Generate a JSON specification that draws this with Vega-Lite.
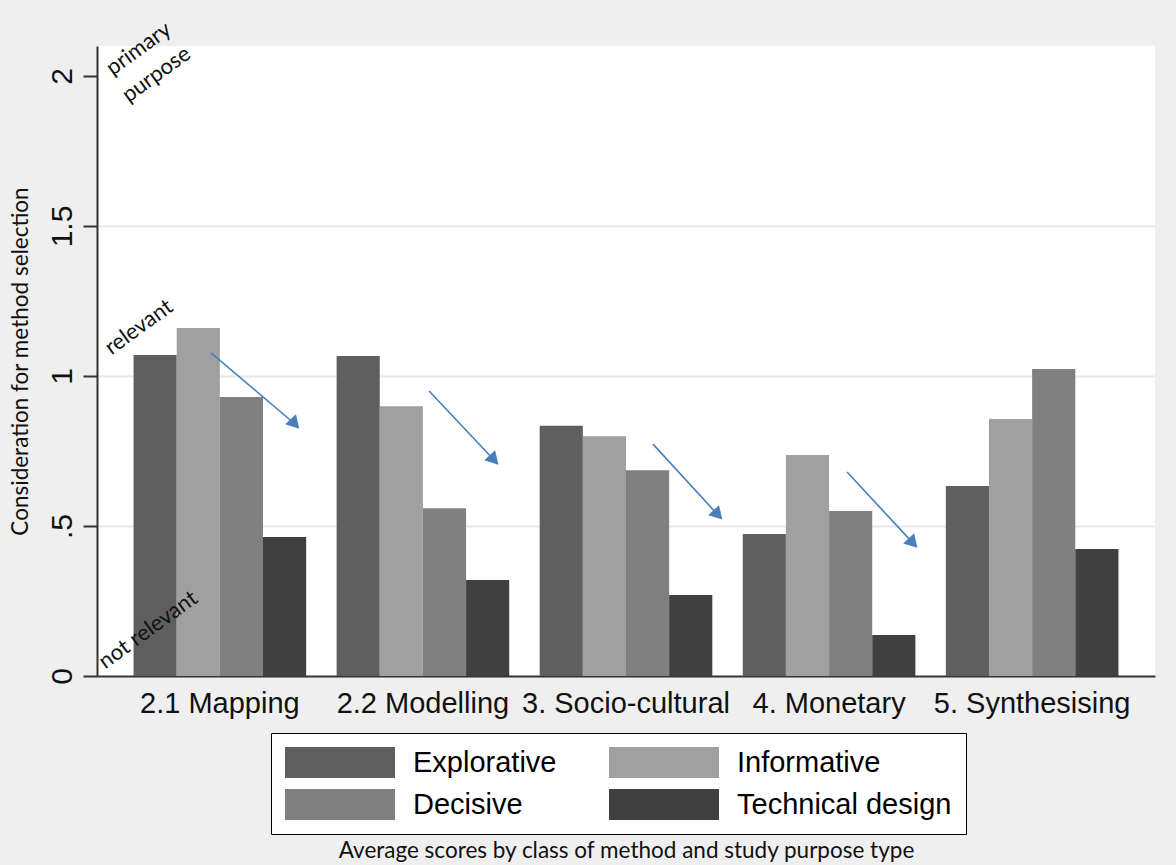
{
  "$schema": "https://vega.github.io/schema/vega-lite/v6.json",
  "width": 1058,
  "height": 630,
  "autosize": {"type": "none"},
  "padding": {"left": 97, "top": 46, "right": 21, "bottom": 189},
  "background": "#EFEFEF",
  "view": {"fill": "white", "stroke": null},
  "datasets": {
    "bars": [
      {"group": "2.1 Mapping", "type": "Explorative", "value": 1.07},
      {"group": "2.1 Mapping", "type": "Informative", "value": 1.16},
      {"group": "2.1 Mapping", "type": "Decisive", "value": 0.93},
      {"group": "2.1 Mapping", "type": "Technical design", "value": 0.463},
      {"group": "2.2 Modelling", "type": "Explorative", "value": 1.067},
      {"group": "2.2 Modelling", "type": "Informative", "value": 0.899},
      {"group": "2.2 Modelling", "type": "Decisive", "value": 0.559},
      {"group": "2.2 Modelling", "type": "Technical design", "value": 0.32},
      {"group": "3. Socio-cultural", "type": "Explorative", "value": 0.834},
      {"group": "3. Socio-cultural", "type": "Informative", "value": 0.799},
      {"group": "3. Socio-cultural", "type": "Decisive", "value": 0.686},
      {"group": "3. Socio-cultural", "type": "Technical design", "value": 0.27},
      {"group": "4. Monetary", "type": "Explorative", "value": 0.473},
      {"group": "4. Monetary", "type": "Informative", "value": 0.737},
      {"group": "4. Monetary", "type": "Decisive", "value": 0.55},
      {"group": "4. Monetary", "type": "Technical design", "value": 0.137},
      {"group": "5. Synthesising", "type": "Explorative", "value": 0.633},
      {"group": "5. Synthesising", "type": "Informative", "value": 0.857},
      {"group": "5. Synthesising", "type": "Decisive", "value": 1.023},
      {"group": "5. Synthesising", "type": "Technical design", "value": 0.423}
    ],
    "arrows": [
      {"gx": 0.956, "gy": 1.077, "gx2": 1.369, "gy2": 0.84},
      {"gx": 2.03, "gy": 0.95, "gx2": 2.35, "gy2": 0.72},
      {"gx": 3.133, "gy": 0.773, "gx2": 3.453, "gy2": 0.537},
      {"gx": 4.089, "gy": 0.68, "gx2": 4.414, "gy2": 0.443}
    ],
    "notes": [
      {"gx": 0.472, "gy": 2.0, "label": "primary"},
      {"gx": 0.55, "gy": 1.91, "label": "purpose"},
      {"gx": 0.465, "gy": 1.068, "label": "relevant"},
      {"gx": 0.435, "gy": 0.022, "label": "not relevant"}
    ]
  },
  "layer": [
    {
      "data": {"name": "bars"},
      "mark": {"type": "bar"},
      "encoding": {
        "x": {
          "field": "group",
          "type": "nominal",
          "sort": null,
          "scale": {"paddingInner": 0.15, "paddingOuter": 0.18},
          "axis": {
            "labelAngle": 0,
            "labelFont": "Liberation Sans",
            "labelFontSize": 29,
            "labelLimit": 400,
            "labelColor": "#111",
            "labelPadding": 13,
            "ticks": false,
            "domainColor": "#333",
            "domainWidth": 2,
            "title": "Average scores by class of method and study purpose type",
            "titleFont": "Lato",
            "titleFontSize": 22.5,
            "titleFontWeight": "normal",
            "titleColor": "#111",
            "titlePadding": 121
          }
        },
        "xOffset": {
          "field": "type",
          "type": "nominal",
          "sort": ["Explorative", "Informative", "Decisive", "Technical design"],
          "scale": {"paddingInner": 0, "paddingOuter": 0}
        },
        "y": {
          "field": "value",
          "type": "quantitative",
          "scale": {"domain": [0, 2.1], "nice": false, "zero": true},
          "axis": {
            "values": [0, 0.5, 1, 1.5, 2],
            "format": "~g",
            "labelExpr": "datum.value == 0.5 ? '.5' : datum.label",
            "labelAngle": 270,
            "labelAlign": "center",
            "labelBaseline": "bottom",
            "labelFont": "Liberation Sans",
            "labelFontSize": 30,
            "labelColor": "#111",
            "labelPadding": 6,
            "tickSize": 14,
            "tickColor": "#333",
            "tickWidth": 2,
            "domainColor": "#333",
            "domainWidth": 2,
            "grid": true,
            "gridColor": "#E8E8E8",
            "gridWidth": 2,
            "gridOpacity": {"condition": {"test": "datum.value >= 2 || datum.value <= 0", "value": 0}, "value": 1},
            "title": "Consideration for method selection",
            "titleFont": "Lato",
            "titleFontSize": 22.5,
            "titleFontWeight": "normal",
            "titleColor": "#111",
            "titlePadding": 15
          }
        },
        "color": {
          "field": "type",
          "type": "nominal",
          "sort": ["Explorative", "Informative", "Decisive", "Technical design"],
          "scale": {
            "domain": ["Explorative", "Informative", "Decisive", "Technical design"],
            "range": ["#5F5F5F", "#A0A0A0", "#808080", "#404040"]
          },
          "legend": {
            "orient": "none",
            "legendX": 174,
            "legendY": 687,
            "title": null,
            "columns": 2,
            "direction": "horizontal",
            "gridAlign": "each",
            "columnPadding": 52,
            "rowPadding": 11,
            "padding": 14,
            "strokeColor": "#000",
            "fillColor": "white",
            "symbolType": "M-1,-0.28H1V0.28H-1Z",
            "symbolSize": 12100,
            "symbolStrokeWidth": 0,
            "symbolOpacity": 1,
            "clipHeight": 31,
            "labelFont": "Liberation Sans",
            "labelFontSize": 29,
            "labelColor": "#000",
            "labelOffset": 18,
            "labelLimit": 400
          }
        }
      }
    },
    {
      "layer": [
        {
          "data": {"name": "arrows"},
          "mark": {"type": "rule", "color": "#4A7EBB", "strokeWidth": 1.6},
          "encoding": {
            "x": {"field": "gx", "type": "quantitative", "scale": {"domain": [0.394, 5.606], "nice": false, "zero": false}, "axis": null},
            "y": {"field": "gy", "type": "quantitative"},
            "x2": {"field": "gx2"},
            "y2": {"field": "gy2"}
          }
        },
        {
          "data": {"name": "arrows"},
          "mark": {"type": "point", "shape": "triangle-up", "filled": true, "color": "#4A7EBB", "opacity": 1, "size": 220, "angle": 137},
          "encoding": {
            "x": {"field": "gx2", "type": "quantitative", "axis": null},
            "y": {"field": "gy2", "type": "quantitative"}
          }
        },
        {
          "data": {"name": "notes"},
          "mark": {"type": "text", "align": "left", "baseline": "alphabetic", "angle": 324, "font": "Lato", "fontSize": 22, "color": "#111"},
          "encoding": {
            "x": {"field": "gx", "type": "quantitative", "axis": null},
            "y": {"field": "gy", "type": "quantitative"},
            "text": {"field": "label"}
          }
        }
      ]
    }
  ],
  "resolve": {"scale": {"x": "independent"}, "axis": {"x": "independent"}}
}
